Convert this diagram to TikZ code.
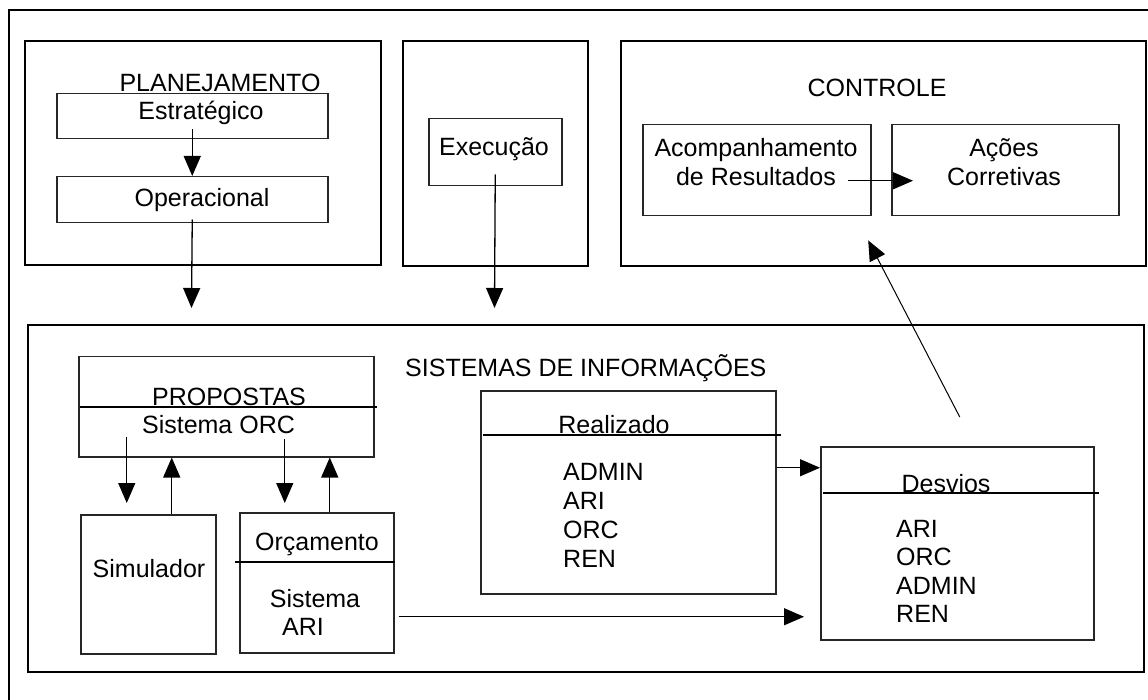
\documentclass[tikz,border=0pt]{standalone}
\usepackage{fontspec}
\setmainfont{Liberation Sans}
\usetikzlibrary{arrows.meta}

\tikzset{
  panel/.style={draw, line width=2.4pt, inner sep=0pt, anchor=north west},
  cell/.style={draw=black!85, line width=1.5pt, inner sep=0pt, anchor=north west},
  arr/.style={line width=1.3pt, -{Triangle[length=20pt,width=17pt]}},
  lbl/.style={inner sep=0pt, anchor=base},
}

\begin{document}
\begin{tikzpicture}[x=1pt,y=-1pt,font=\fontsize{25}{29}\selectfont]
\useasboundingbox (0,0) rectangle (1148,700);
% outer frame
\draw[line width=2.6pt] (1148,10) -- (9,10) -- (9,700);

% planejamento
\node[panel, minimum width=356pt, minimum height=224pt] (plan) at (24,40) {};
\node[cell, minimum width=271pt, minimum height=45pt] (estr) at (56,93) {};
\node[cell, minimum width=271pt, minimum height=46pt] (oper) at (56,176) {};
\node[lbl] (planT) at (220,92) {PLANEJAMENTO};
\node[lbl] (estrT) at (201,120) {Estratégico};
\node[lbl] (operT) at (202,207) {Operacional};

% execucao
\node[panel, minimum width=185pt, minimum height=225pt] (execB) at (402,40) {};
\node[cell, minimum width=133pt, minimum height=67pt] (exec) at (428,118) {};
\node[lbl] (execT) at (494,156) {Execução};

% controle
\node[panel, minimum width=525pt, minimum height=225pt] (ctrl) at (620,40) {};
\node[lbl] (ctrlT) at (877,97) {CONTROLE};
\node[cell, minimum width=228pt, minimum height=91pt] (acomp) at (642,124) {};
\node[cell, minimum width=227pt, minimum height=91pt] (acoes) at (891,124) {};
\node[align=center, inner sep=0pt] (acompT) at (756,162) {Acompanhamento\\de Resultados};
\node[align=center, inner sep=0pt] (acoesT) at (1004,162) {Ações\\Corretivas};

% sistemas de informacoes
\node[panel, minimum width=1116pt, minimum height=347pt] (sist) at (27,324) {};
\node[lbl, anchor=base west] (sistT) at (405,376) {SISTEMAS DE INFORMAÇÕES};
\node[cell, minimum width=295pt, minimum height=100pt] (prop) at (78,356) {};
\node[cell, minimum width=135pt, minimum height=139pt] (sim) at (80,514) {};
\node[cell, minimum width=154pt, minimum height=140pt] (orc) at (239,512) {};
\node[cell, minimum width=295pt, minimum height=203pt] (real) at (480,390) {};
\node[cell, minimum width=273pt, minimum height=193pt] (desv) at (820,446) {};

% divider lines
\draw[line width=1.5pt] ([xshift=2pt]prop.west) -- ([xshift=2pt]prop.east);
\draw[line width=1.5pt] ([shift={(-4pt,-50pt)}]orc.north west) -- ([yshift=-50pt]orc.north east);
\draw[line width=1.5pt] ([shift={(3pt,-45pt)}]real.north west) -- ([shift={(4pt,-45pt)}]real.north east);
\draw[line width=1.5pt] ([shift={(3pt,-47pt)}]desv.north west) -- ([shift={(4pt,-47pt)}]desv.north east);

\node[lbl] (propT) at (229,405) {PROPOSTAS};
\node[lbl] (propS) at (218.5,433) {Sistema ORC};
\node[lbl] (simT) at (149,577) {Simulador};
\node[lbl] (orcT) at (317,550) {Orçamento};
\node[lbl] (orcS) at (315,607) {Sistema};
\node[lbl] (orcA) at (303,635) {ARI};
\node[lbl] (realT) at (614,433) {Realizado};
\node[lbl] (desvT) at (946,492) {Desvios};
\foreach \t [count=\i] in {ADMIN,ARI,ORC,REN}
  \node[lbl, anchor=base west] (realL\i) at (563,{451+29*\i}) {\t};
\foreach \t [count=\i] in {ARI,ORC,ADMIN,REN}
  \node[lbl, anchor=base west] (desvL\i) at (896,{508.5+28.5*\i}) {\t};

% arrows
\coordinate (planTip) at (191.5,308);
\coordinate (execTip) at (494.5,308);
\draw[arr] ([yshift=10pt]estr.south) -- (oper.north);
\draw[arr] ([yshift=4pt]oper.south) -- (planTip);
\draw[arr] ([yshift=12pt]exec.south) -- (execTip);
\draw[arr] ([shift={(-24pt,-10.5pt)}]acomp.east) -- ([shift={(22pt,-10.5pt)}]acoes.west);
\draw[arr, line width=1pt] ([shift={(2.5pt,29pt)}]desv.north) -- ([shift={(-15.5pt,27pt)}]ctrl.south);
\draw[arr] ([yshift=24.5pt]real.east) -- ([yshift=75.5pt]desv.west);
\draw[arr] ([shift={(4pt,-34pt)}]orc.east) -- ([shift={(-16pt,-73.5pt)}]desv.west);
\draw[arr] ([shift={(-99.5pt,21pt)}]prop.south) -- ([shift={(-21.5pt,11pt)}]sim.north);
\draw[arr] ([xshift=23.5pt]sim.north) -- ([xshift=-54.5pt]prop.south);
\draw[arr] ([shift={(58.5pt,19pt)}]prop.south) -- ([shift={(-32pt,9pt)}]orc.north);
\draw[arr] ([xshift=13pt]orc.north) -- ([xshift=103.5pt]prop.south);
\end{tikzpicture}
\end{document}
